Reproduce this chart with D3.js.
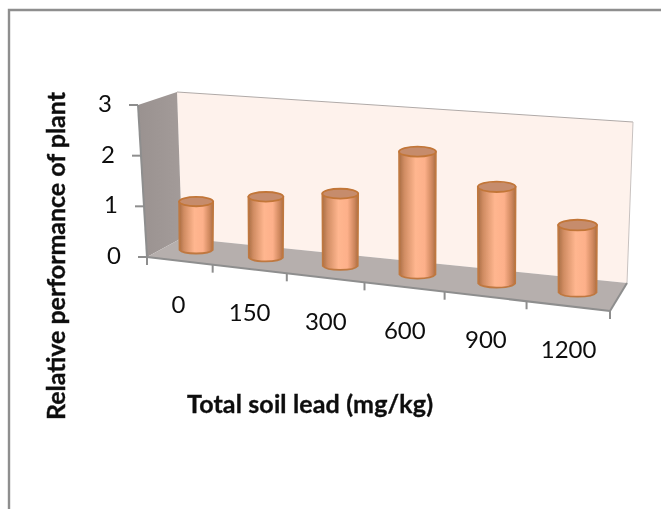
<!DOCTYPE html>
<html><head><meta charset="utf-8">
<script src="https://cdn.jsdelivr.net/npm/d3@7/dist/d3.min.js"></script>
<style>html,body{margin:0;padding:0;background:#fff}svg{display:block}text{font-family:Lato,sans-serif;fill:#111}</style>
</head><body><svg id="c" width="661" height="509"></svg>
<script>
const categories=["0","150","300","600","900","1200"];
const values=[0.98,1.22,1.43,2.4,1.86,1.28];
const valueTicks=[0,1,2,3];
const xTitle="Total soil lead (mg/kg)";
const yTitle="Relative performance of plant";

const svg=d3.select("#c");
const defs=svg.append("defs");
defs.append("filter").attr("id","soft").append("feGaussianBlur").attr("stdDeviation",0.5);
const txtF=defs.append("filter").attr("id","softT");txtF.append("feGaussianBlur").attr("stdDeviation",0.3);
const bodyG=defs.append("linearGradient").attr("id","body");
[[0,"#a96e45"],[.14,"#d08c62"],[.45,"#ffb68f"],[.7,"#fdb08a"],[.9,"#cd865c"],[1,"#a96e45"]]
 .forEach(s=>bodyG.append("stop").attr("offset",s[0]).attr("stop-color",s[1]));
const wallG=defs.append("linearGradient").attr("id","wall").attr("x1",0).attr("x2",1);
wallG.append("stop").attr("offset",0).attr("stop-color","#9a9290");
wallG.append("stop").attr("offset",1).attr("stop-color","#a39b99");

const depth=d3.scalePow().exponent(1.09).domain([0,1]).range([0,1]);
const L={frontTop:[138,105],frontBot:[147,257],backTop:[177,92],backBot:[182,238]};
const R={backTop:[633,122],backBot:[627,283],frontBot:[610,311]};
const frontX=d3.scaleLinear().range([L.frontBot[0],R.frontBot[0]]);
const frontY=d3.scaleLinear().range([L.frontBot[1],R.frontBot[1]]);
const midX=d3.scaleLinear().range([(L.frontBot[0]+L.backBot[0])/2+1.5,(R.frontBot[0]+R.backBot[0])/2]);
const midY=d3.scaleLinear().range([(L.frontBot[1]+L.backBot[1])/2-1,(R.frontBot[1]+R.backBot[1])/2]);
const rx=d3.scaleLinear().range([16.8,19.6]);
const ry=d3.scaleLinear().range([4.6,5.4]);
const unit=d3.scaleLinear().range([49,53]);
const n=categories.length;
const yFrontY=d3.scaleLinear().domain([0,3]).range([L.frontBot[1],L.frontTop[1]]);
const yFrontX=d3.scaleLinear().domain([0,3]).range([L.frontBot[0],L.frontTop[0]]);

const g=svg.append("g").attr("filter","url(#soft)");
const poly=(pts,fill)=>g.append("polygon").attr("points",pts.map(p=>p.join(",")).join(" ")).attr("fill",fill);
poly([L.backTop,R.backTop,R.backBot,L.backBot],"#fef2ec");
poly([L.frontTop,L.backTop,L.backBot,L.frontBot],"url(#wall)");
poly([L.backBot,R.backBot,R.frontBot,L.frontBot],"#b6afad");
const line=(a,b,w,c)=>g.append("line").attr("x1",a[0]).attr("y1",a[1]).attr("x2",b[0]).attr("y2",b[1]).attr("stroke",c||"#8e8e8e").attr("stroke-width",w);
line(L.backTop,R.backTop,1,"#b0aaa8");
line(R.backTop,R.backBot,1,"#c8c2c0");
line(L.frontTop,L.frontBot,2);
line(L.frontBot,R.frontBot,2);
line(R.frontBot,R.backBot,2);
valueTicks.forEach(v=>{const x=yFrontX(v),y=yFrontY(v);line([x-9,y],[x,y],2);});
d3.range(n+1).forEach(i=>{const f=depth(i/n),x=frontX(f),y=frontY(f);line([x,y],[x,y+8],2);});

const bars=g.selectAll("g.bar").data(values).join("g").attr("class","bar");
bars.each(function(v,i){
  const f=depth((i+.5)/n),cx=midX(f),by=midY(f),a=rx(f),b=ry(f),ty=by-v*unit(f),s=d3.select(this);
  s.append("path")
   .attr("d",`M${cx-a},${ty}L${cx-a+.4},${by}A${a},${b} 0 0 0 ${cx+a-.4},${by}L${cx+a},${ty}Z`)
   .attr("fill","url(#body)").attr("stroke","#bf7840").attr("stroke-width",1.8);
  s.append("ellipse").attr("cx",cx).attr("cy",ty).attr("rx",a).attr("ry",b)
   .attr("fill","#c68c6c").attr("stroke","#c27638").attr("stroke-width",1.8);
});

svg.append("path").attr("d","M9,509V10H661").attr("fill","none").attr("stroke","#8e8e8e").attr("stroke-width",2.4);

const t=svg.append("g").attr("filter","url(#softT)");
valueTicks.forEach(v=>t.append("text").text(v).attr("x",yFrontX(v)-26).attr("y",yFrontY(v)+1)
  .attr("text-anchor","end").attr("dominant-baseline","middle").attr("font-size",24));
categories.forEach((c,i)=>{const f=depth((i+.5)/n);
  t.append("text").text(c).attr("x",frontX(f)+.5).attr("y",frontY(f)+52).attr("text-anchor","middle").attr("font-size",24);});
t.append("text").text(xTitle).attr("x",310).attr("y",413).attr("text-anchor","middle").attr("font-weight",700).attr("font-size",25).attr("textLength",246).attr("stroke","#111").attr("stroke-width",0.35);
t.append("text").text(yTitle).attr("transform","translate(65,256) rotate(-90)").attr("text-anchor","middle").attr("font-weight",700).attr("font-size",25).attr("textLength",328).attr("stroke","#111").attr("stroke-width",0.35);
</script></body></html>
